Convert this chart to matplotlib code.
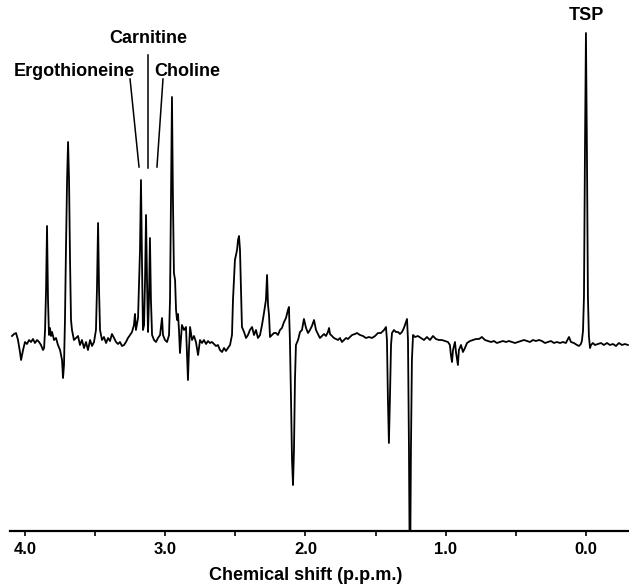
import matplotlib.pyplot as plt

# 1H NMR spectrum (chemical shift in p.p.m., arbitrary intensity)
ppm = [4.093, 4.078, 4.064, 4.050, 4.036, 4.028, 4.014, 4.000, 3.986, 3.971,
       3.957, 3.943, 3.929, 3.914, 3.900, 3.886, 3.872, 3.864, 3.857, 3.850,
       3.843, 3.836, 3.829, 3.822, 3.815, 3.807, 3.793, 3.779, 3.765, 3.750,
       3.736, 3.729, 3.722, 3.715, 3.708, 3.700, 3.693, 3.686, 3.679, 3.672,
       3.665, 3.651, 3.636, 3.622, 3.608, 3.594, 3.579, 3.565, 3.551, 3.536,
       3.522, 3.508, 3.494, 3.487, 3.479, 3.472, 3.465, 3.451, 3.437, 3.422,
       3.408, 3.394, 3.380, 3.365, 3.351, 3.337, 3.323, 3.308, 3.294, 3.280,
       3.266, 3.251, 3.237, 3.223, 3.216, 3.209, 3.194, 3.180, 3.173, 3.166,
       3.159, 3.151, 3.144, 3.137, 3.130, 3.123, 3.116, 3.109, 3.102, 3.094,
       3.080, 3.066, 3.052, 3.037, 3.023, 3.016, 3.002, 2.987, 2.973, 2.966,
       2.959, 2.952, 2.945, 2.938, 2.930, 2.923, 2.916, 2.909, 2.902, 2.895,
       2.881, 2.866, 2.852, 2.838, 2.831, 2.823, 2.809, 2.795, 2.781, 2.766,
       2.752, 2.738, 2.724, 2.709, 2.695, 2.681, 2.667, 2.652, 2.638, 2.624,
       2.610, 2.595, 2.581, 2.567, 2.553, 2.538, 2.524, 2.517, 2.503, 2.488,
       2.481, 2.474, 2.467, 2.460, 2.453, 2.438, 2.424, 2.410, 2.396, 2.381,
       2.367, 2.353, 2.339, 2.324, 2.310, 2.296, 2.282, 2.274, 2.267, 2.260,
       2.253, 2.239, 2.225, 2.210, 2.196, 2.182, 2.168, 2.153, 2.139, 2.125,
       2.118, 2.111, 2.103, 2.096, 2.089, 2.082, 2.075, 2.068, 2.053, 2.039,
       2.025, 2.011, 1.996, 1.982, 1.968, 1.954, 1.939, 1.925, 1.911, 1.897,
       1.882, 1.868, 1.854, 1.840, 1.832, 1.825, 1.811, 1.797, 1.783, 1.768,
       1.754, 1.740, 1.725, 1.711, 1.697, 1.683, 1.668, 1.647, 1.633, 1.611,
       1.590, 1.569, 1.547, 1.526, 1.504, 1.483, 1.462, 1.440, 1.426, 1.419,
       1.412, 1.405, 1.398, 1.390, 1.383, 1.369, 1.355, 1.340, 1.326, 1.312,
       1.298, 1.283, 1.276, 1.269, 1.262, 1.255, 1.248, 1.241, 1.233, 1.219,
       1.198, 1.176, 1.155, 1.134, 1.112, 1.091, 1.070, 1.048, 1.027, 1.005,
       0.984, 0.970, 0.963, 0.955, 0.948, 0.934, 0.927, 0.913, 0.906, 0.891,
       0.877, 0.863, 0.848, 0.827, 0.806, 0.784, 0.763, 0.742, 0.720, 0.699,
       0.677, 0.656, 0.635, 0.613, 0.592, 0.570, 0.549, 0.528, 0.506, 0.485,
       0.463, 0.442, 0.421, 0.399, 0.378, 0.357, 0.335, 0.314, 0.292, 0.271,
       0.250, 0.228, 0.207, 0.185, 0.164, 0.143, 0.121, 0.107, 0.086, 0.064,
       0.050, 0.036, 0.029, 0.021, 0.014, 0.007, 0.000, -0.007, -0.014, -0.021,
       -0.029, -0.036, -0.050, -0.064, -0.086, -0.107, -0.128, -0.150, -0.171, -0.193,
       -0.214, -0.235, -0.257, -0.278, -0.299]

intensity = [5, 7, 8, 1, -11, -19, -9, -1, -3, 1,
             -1, 2, -2, 1, -1, -4, -9, -7, 11, 51,
             115, 41, 6, 13, 5, 9, 1, 3, -4, -9,
             -19, -37, -24, 21, 91, 161, 199, 161, 81, 21,
             11, 1, 3, 5, -4, 1, -7, -1, -9, 1,
             -5, -1, 11, 51, 118, 51, 11, 1, 4, -2,
             3, 0, 7, 3, -1, -3, -1, -5, -4, -1,
             3, 6, 9, 16, 27, 11, 23, 91, 161, 81,
             11, 16, 61, 126, 61, 9, 41, 103, 41, 6,
             1, -1, 3, 6, 23, 6, 1, -1, 6, 41,
             141, 244, 141, 68, 61, 31, 21, 27, 11, -12,
             16, 11, 14, -39, -9, 14, 1, 5, -1, -14,
             1, -2, 1, -3, 0, -2, -1, -3, -5, -4,
             -9, -11, -7, -10, -7, -4, 6, 41, 81, 91,
             101, 105, 91, 51, 14, 9, 3, 6, 11, 14,
             6, 11, 3, 6, 16, 28, 41, 66, 36, 26,
             4, 6, 8, 8, 6, 11, 13, 19, 23, 31,
             34, 1, -59, -119, -144, -109, -39, -4, 1, 9,
             11, 22, 13, 8, 11, 15, 21, 11, 7, 3,
             5, 7, 5, 9, 13, 7, 5, 3, 2, 1,
             3, -1, 1, 3, 2, 4, 6, 7, 8, 6,
             5, 3, 4, 3, 5, 8, 8, 11, 14, 1,
             -59, -102, -59, -4, 8, 11, 9, 9, 7, 9,
             13, 19, 22, 1, -109, -259, -109, -19, 6, 4,
             5, 3, 1, 4, 1, 5, 2, 1, 1, 0,
             -1, -4, -14, -21, -9, -1, -11, -24, -9, -4,
             -11, -7, -2, 0, 1, 2, 2, 4, 1, 0,
             -1, 0, -2, -1, 0, -1, 0, -1, -2, -1,
             0, 1, 0, -1, 1, 0, 1, 0, -2, -1,
             0, -2, -1, -2, -1, -2, 4, -1, -2, -4,
             -5, -3, 0, 10, 45, 190, 308, 190, 45, 5,
             -7, -4, -2, -4, -3, -2, -4, -2, -4, -3,
             -5, -2, -4, -3, -4]

fig = plt.figure(figsize=(6.29, 5.85), dpi=100)
ax = fig.add_axes([0.0159, 0.0923, 0.9841, 0.9077])

ax.plot(ppm, intensity, color='black', lw=1.3, solid_joinstyle='round')

ax.set_xlim(4.107, -0.307)
ax.set_ylim(-190, 341)

for side in ['top', 'left', 'right']:
    ax.spines[side].set_visible(False)
ax.spines['bottom'].set_linewidth(1.6)
ax.set_yticks([])

ax.set_xticks([4.0, 3.0, 2.0, 1.0, 0.0])
ax.set_xticklabels(['4.0', '3.0', '2.0', '1.0', '0.0'],
                   fontfamily='Liberation Sans', fontweight='bold', fontsize=12)
ax.set_xticks([3.5, 2.5, 1.5, 0.5], minor=True)
ax.tick_params(axis='x', which='both', direction='out', length=3.5, width=1.2, pad=4.5)
ax.set_xlabel('Chemical shift (p.p.m.)', fontfamily='Liberation Sans',
              fontweight='bold', fontsize=13)
ax.xaxis.set_label_coords(0.478, -0.083)
ax.xaxis.label.set_va('center')

lbl = dict(fontfamily='Liberation Sans', fontweight='bold', fontsize=13, va='center')
ax.text(3.123, 303, 'Carnitine', ha='center', **lbl)
ax.text(3.216, 270, 'Ergothioneine', ha='right', **lbl)
ax.text(3.080, 270, 'Choline', ha='left', **lbl)
ax.text(0.0, 326, 'TSP', ha='center', **lbl)

ax.plot([3.251, 3.187], [262, 174], color='black', lw=1.1)
ax.plot([3.123, 3.123], [286, 173], color='black', lw=1.1)
ax.plot([3.016, 3.059], [262, 174], color='black', lw=1.1)

fig.savefig('out.png', dpi=100)
